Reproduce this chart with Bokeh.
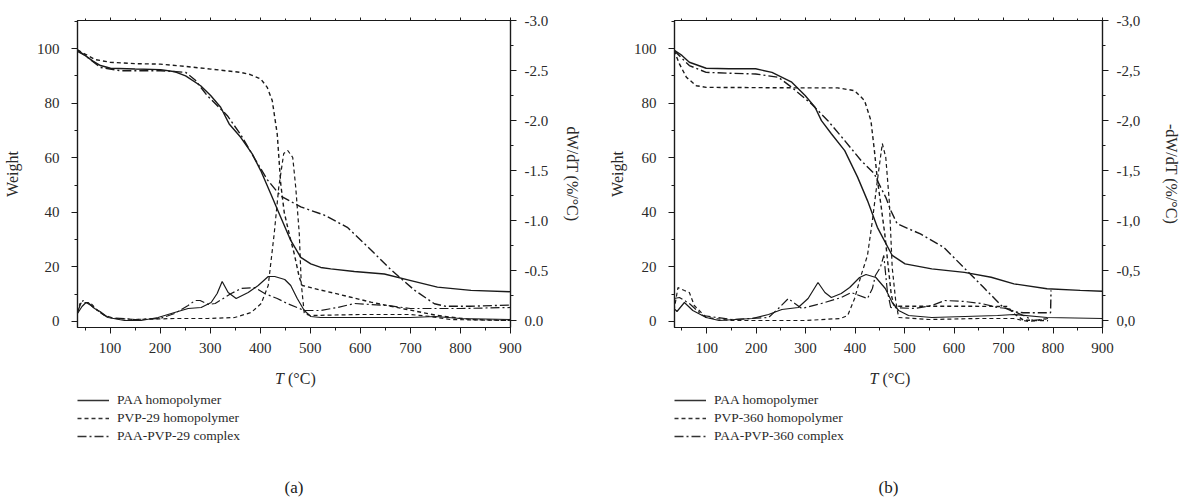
from bokeh.plotting import figure
from bokeh.models import (Range1d, LinearAxis, Legend, LegendItem, Label,
                          CustomJSTickFormatter, FixedTicker)
from bokeh.layouts import row, column
from bokeh.embed import file_html
from bokeh.resources import INLINE

# ---------------- data ----------------
# Panel (a): TGA weight (%) on left axis
a_paa_tga_T = [35, 50, 65, 81, 101, 150, 201, 230, 251, 281, 301, 321, 338, 361, 384, 401, 421, 441, 461, 481, 501, 521, 541, 588, 648, 701, 754, 821, 900]
a_paa_tga_w = [99, 97.5, 95.5, 93.8, 92.8, 92.5, 92.3, 91.5, 90, 86.4, 82.8, 78.5, 72.4, 67.5, 61.4, 55.3, 46.8, 38.2, 29.7, 23.5, 21.1, 19.8, 19.3, 18.3, 17.4, 15.0, 12.6, 11.4, 10.9]
a_pvp_tga_T = [35, 50, 70, 100, 150, 200, 250, 301, 361, 380, 401, 414, 424, 434, 441, 448, 458, 468, 478, 484, 521, 554, 621, 688, 754, 821, 900]
a_pvp_tga_w = [99.5, 98, 96, 95, 94.5, 94.3, 93.5, 92.5, 91.3, 90.5, 88.9, 85.8, 81, 68.7, 50.4, 40, 32, 24.8, 16.2, 13.2, 11.5, 10.1, 7.1, 4.6, 2.2, 0.7, 0.4]
a_cpx_tga_T = [35, 50, 81, 121, 201, 251, 270, 294, 334, 361, 388, 414, 441, 481, 528, 574, 614, 661, 708, 748, 770, 820, 900]
a_cpx_tga_w = [99.5, 97.5, 93.1, 91.9, 91.9, 91.3, 88.5, 82.8, 75.5, 68.5, 60, 52, 46, 42, 39, 34.5, 27.5, 19, 11.5, 6.5, 5.6, 5.6, 6.0]
# Panel (a): DTG (%/°C) on right axis
a_paa_dtg_T = [35, 44, 52, 56, 69, 80, 96, 129, 162, 196, 229, 256, 282, 302, 314, 324, 336, 352, 376, 396, 416, 429, 449, 461, 474, 488, 501, 521, 600, 700, 750, 800, 900]
a_paa_dtg_d = [-0.07, -0.14, -0.18, -0.18, -0.12, -0.09, -0.03, 0.0, 0.0, -0.03, -0.08, -0.12, -0.13, -0.18, -0.27, -0.39, -0.28, -0.22, -0.28, -0.35, -0.44, -0.44, -0.41, -0.35, -0.22, -0.10, -0.04, -0.03, -0.03, -0.03, -0.04, -0.02, -0.01]
a_pvp_dtg_T = [35, 40, 50, 62, 75, 89, 110, 150, 229, 296, 349, 382, 402, 416, 428, 437, 447, 455, 465, 471, 478, 482, 488, 500, 600, 700, 740, 780, 900]
a_pvp_dtg_d = [-0.08, -0.17, -0.18, -0.17, -0.1, -0.05, -0.02, -0.01, -0.02, -0.02, -0.03, -0.08, -0.17, -0.35, -0.87, -1.33, -1.67, -1.70, -1.63, -1.33, -0.87, -0.37, -0.07, -0.05, -0.06, -0.06, -0.04, -0.01, 0.0]
a_cpx_dtg_T = [35, 40, 46, 62, 80, 96, 150, 200, 229, 256, 270, 280, 296, 310, 342, 362, 389, 409, 434, 454, 488, 520, 554, 588, 654, 700, 750, 800, 900]
a_cpx_dtg_d = [-0.08, -0.15, -0.2, -0.15, -0.08, -0.03, -0.01, -0.02, -0.07, -0.15, -0.2, -0.2, -0.16, -0.17, -0.27, -0.32, -0.33, -0.27, -0.22, -0.17, -0.1, -0.1, -0.13, -0.17, -0.15, -0.12, -0.12, -0.12, -0.13]

# Panel (b): TGA
b_paa_tga_T = [34, 50, 65, 99, 145, 199, 232, 272, 299, 319, 332, 352, 379, 405, 425, 445, 475, 501, 555, 621, 675, 721, 788, 855, 900]
b_paa_tga_w = [99.5, 97.5, 95, 92.8, 92.6, 92.6, 91.3, 87.7, 82.8, 78.5, 73.6, 68.8, 62.6, 52.9, 44.3, 34.5, 24.2, 21.1, 19.3, 18, 16.2, 13.8, 12, 11.4, 11.1]
b_pvp_tga_T = [34, 45, 59, 79, 99, 200, 300, 365, 399, 419, 432, 439, 445, 452, 460, 467, 473, 478, 485, 600, 708, 720, 740, 790]
b_pvp_tga_w = [99.3, 94.4, 89.5, 86.4, 85.8, 85.7, 85.6, 85.6, 84.6, 81, 73.6, 62.6, 52, 43, 32, 20, 10, 6, 5.6, 5.6, 5.5, 3, 0.5, 0.3]
b_cpx_tga_T = [34, 65, 99, 145, 199, 245, 272, 312, 345, 379, 412, 439, 445, 462, 472, 485, 532, 579, 619, 659, 699, 720, 740, 795, 796]
b_cpx_tga_w = [99.3, 93.8, 91.3, 91, 90.7, 89.5, 85.8, 79.7, 73.6, 66.3, 59, 54.1, 51.6, 45.5, 40.7, 35.8, 32.1, 27.2, 19.9, 12.6, 5.2, 3.6, 3.2, 3.2, 11.4]
# Panel (b): DTG
b_paa_dtg_T = [34, 40, 55, 72, 99, 125, 192, 225, 252, 285, 305, 315, 325, 339, 352, 372, 389, 409, 422, 442, 461, 475, 488, 508, 555, 688, 721, 788, 900]
b_paa_dtg_d = [-0.12, -0.09, -0.18, -0.1, -0.03, 0.0, -0.02, -0.06, -0.11, -0.13, -0.22, -0.3, -0.38, -0.28, -0.23, -0.27, -0.33, -0.43, -0.46, -0.43, -0.32, -0.18, -0.1, -0.05, -0.03, -0.05, -0.06, -0.03, -0.02]
b_pvp_dtg_T = [34, 42, 55, 65, 75, 99, 150, 300, 370, 385, 399, 412, 425, 435, 445, 455, 462, 469, 475, 482, 488, 550, 650, 720, 750, 770, 790]
b_pvp_dtg_d = [-0.1, -0.33, -0.3, -0.28, -0.15, -0.03, 0.0, 0.0, -0.02, -0.05, -0.22, -0.45, -0.65, -1.0, -1.4, -1.77, -1.63, -1.2, -0.53, -0.2, -0.03, -0.01, -0.02, -0.02, 0.01, 0.0, -0.02]
b_cpx_dtg_T = [34, 45, 65, 92, 150, 225, 245, 265, 292, 332, 372, 392, 425, 435, 441, 451, 458, 465, 472, 521, 555, 581, 621, 655, 688, 708, 740, 760, 790]
b_cpx_dtg_d = [-0.22, -0.23, -0.17, -0.05, -0.01, -0.03, -0.12, -0.22, -0.12, -0.17, -0.23, -0.28, -0.22, -0.32, -0.45, -0.53, -0.65, -0.3, -0.13, -0.12, -0.15, -0.2, -0.19, -0.17, -0.13, -0.12, -0.05, 0.0, -0.02]

a_labels = ["PAA homopolymer", "PVP-29 homopolymer", "PAA-PVP-29 complex"]
b_labels = ["PAA homopolymer", "PVP-360 homopolymer", "PAA-PVP-360 complex"]

x_ticks = [100, 200, 300, 400, 500, 600, 700, 800, 900]
x_minor = [50, 150, 250, 350, 450, 550, 650, 750, 850]
w_ticks = [0, 20, 40, 60, 80, 100]
w_minor = [10, 30, 50, 70, 90, 110]
d_ticks = [-3.0, -2.5, -2.0, -1.5, -1.0, -0.5, 0.0]
d_minor = [-2.75, -2.25, -1.75, -1.25, -0.75, -0.25]

# ---------------- styling ----------------
FONT = "Liberation Serif"
INK = "#1a1a1a"
TXT = "#2a2a2a"
DASHES = ["solid", "4 3", "9 3 2 3"]
MAIN_H = 365   # 20 top + 307 frame + 38 bottom
STRIP_H = 134


def style_axis(ax, label_size="15px"):
    ax.axis_line_color = INK
    ax.axis_line_width = 1.2
    ax.major_tick_line_color = INK
    ax.minor_tick_line_color = INK
    ax.major_tick_in = 0
    ax.major_tick_out = 6
    ax.minor_tick_in = 0
    ax.minor_tick_out = 3
    ax.major_label_text_font = FONT
    ax.major_label_text_font_size = label_size
    ax.major_label_text_color = TXT
    ax.axis_label_text_font = FONT
    ax.axis_label_text_font_size = "16px"
    ax.axis_label_text_font_style = "normal"
    ax.axis_label_text_color = TXT


def panel(tga, dtg, labels, caption, width, left, right, dtg_label, comma,
          wlab_standoff, dlab_standoff):
    p = figure(width=width, height=MAIN_H, x_range=Range1d(35, 900),
               y_range=Range1d(-2.2, 110.3), output_backend="svg",
               toolbar_location=None,
               min_border_left=left, min_border_right=right,
               min_border_top=20, min_border_bottom=38)
    p.title.visible = False
    p.extra_y_ranges = {"dtg": Range1d(0.07, -3.0)}
    p.grid.visible = False
    p.outline_line_color = INK
    p.outline_line_width = 1.2
    p.background_fill_color = "white"
    p.border_fill_color = "white"

    xa = p.xaxis[0]
    xa.ticker = FixedTicker(ticks=x_ticks, minor_ticks=x_minor)
    style_axis(xa)
    xa.major_label_standoff = 9

    ya = p.yaxis[0]
    ya.ticker = FixedTicker(ticks=w_ticks, minor_ticks=w_minor)
    ya.axis_label = "Weight"
    style_axis(ya)
    ya.major_label_standoff = 12
    ya.axis_label_standoff = wlab_standoff

    code = "return tick.toFixed(1).replace('.', ',');" if comma else "return tick.toFixed(1);"
    ra = LinearAxis(y_range_name="dtg",
                    ticker=FixedTicker(ticks=d_ticks, minor_ticks=d_minor),
                    formatter=CustomJSTickFormatter(code=code),
                    axis_label=dtg_label)
    style_axis(ra)
    ra.major_label_standoff = 8
    ra.axis_label_standoff = dlab_standoff
    p.add_layout(ra, "right")

    ta = LinearAxis(ticker=FixedTicker(ticks=x_ticks, minor_ticks=x_minor),
                    formatter=CustomJSTickFormatter(code="return '';"))
    style_axis(ta, label_size="1px")
    ta.major_tick_out = 3
    ta.minor_tick_out = 2
    ta.major_label_standoff = 0
    p.add_layout(ta, "above")

    for (tT, tw), (dT, dd), dash in zip(tga, dtg, DASHES):
        p.line(tT, tw, line_color=INK, line_width=1.4, line_dash=dash)
        p.line(dT, dd, line_color=INK, line_width=1.2, line_dash=dash,
               y_range_name="dtg")

    # strip under the chart: x-axis title, legend and caption (frame aligned)
    q = figure(width=width, height=STRIP_H, x_range=Range1d(0, 1),
               y_range=Range1d(0, 1), output_backend="svg",
               toolbar_location=None, x_axis_location=None,
               y_axis_location=None, min_border_left=left,
               min_border_right=right, min_border_top=0, min_border_bottom=0)
    q.title.visible = False
    q.grid.visible = False
    q.outline_line_color = None
    q.background_fill_color = "white"
    q.border_fill_color = "white"

    q.add_layout(Label(x=0.5, y=0.903, x_offset=-10, text="T", text_align="right",
                       text_baseline="middle", text_font=FONT,
                       text_font_style="italic", text_font_size="16px",
                       text_color=TXT))
    q.add_layout(Label(x=0.5, y=0.903, x_offset=-6, text="(°C)", text_align="left",
                       text_baseline="middle", text_font=FONT,
                       text_font_size="16px", text_color=TXT))

    items = []
    for (tT, tw), dash, lab in zip(tga, DASHES, labels):
        # series drawn outside this strip's ranges: only the legend glyph shows
        r = q.line(tT, tw, line_color="#333333", line_width=1.3, line_dash=dash)
        items.append(LegendItem(label=lab, renderers=[r]))
    leg = Legend(items=items, location=(0, 54), orientation="vertical",
                 border_line_color=None, background_fill_alpha=0,
                 margin=0, padding=1, spacing=0,
                 label_height=18, glyph_height=18, glyph_width=32,
                 label_standoff=8, label_text_font=FONT,
                 label_text_font_size="13.5px", label_text_color=TXT)
    q.add_layout(leg)
    q.add_layout(Label(x=0.5, y=0.0896, text=caption, text_align="center",
                       text_baseline="middle", text_font=FONT,
                       text_font_size="17px", text_color=INK))
    return column(p, q, spacing=0)


pa = panel([(a_paa_tga_T, a_paa_tga_w), (a_pvp_tga_T, a_pvp_tga_w), (a_cpx_tga_T, a_cpx_tga_w)],
           [(a_paa_dtg_T, a_paa_dtg_d), (a_pvp_dtg_T, a_pvp_dtg_d), (a_cpx_dtg_T, a_cpx_dtg_d)],
           a_labels, "(a)", 595, 77, 85, "dW/dT (%/°C)", False, 13, 13)
pb = panel([(b_paa_tga_T, b_paa_tga_w), (b_pvp_tga_T, b_pvp_tga_w), (b_cpx_tga_T, b_cpx_tga_w)],
           [(b_paa_dtg_T, b_paa_dtg_d), (b_pvp_dtg_T, b_pvp_dtg_d), (b_cpx_dtg_T, b_cpx_dtg_d)],
           b_labels, "(b)", 588, 79, 76, "-dW/dT (%/°C)", True, 5, 20)

layout = row(pa, pb, spacing=0)
open("out.html", "w").write(file_html(layout, INLINE))
